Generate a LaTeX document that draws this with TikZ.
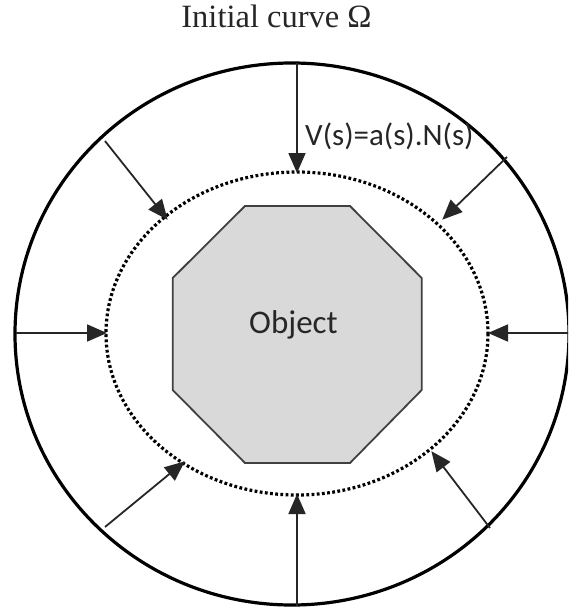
\documentclass[tikz,border=0pt]{standalone}
\usepackage{fontspec}
\setmainfont{Liberation Serif}
\newfontfamily\calfont{Carlito}
\usetikzlibrary{arrows.meta}
\definecolor{objfill}{HTML}{D9D9D9}
\definecolor{objline}{HTML}{404040}
\definecolor{arrcol}{HTML}{262626}
\tikzset{
  x=1pt,y=-1pt,
  outercurve/.style={line width=3.2pt,black},
  innercurve/.style={line width=3.2pt,black,dash pattern=on 2.8pt off 2.4pt},
  objshape/.style={fill=objfill,draw=objline,line width=1.8pt,line join=miter},
  force/.style={line width=1.8pt,arrcol,-{Triangle[length=20pt,width=17pt]},shorten >=-1pt},
  sanslabel/.style={font=\calfont\fontsize{31}{37}\selectfont,text=black!85,inner sep=0pt},
}
\begin{document}
\begin{tikzpicture}
\useasboundingbox (0,0) rectangle (568,610);
\clip (0,0) rectangle (568,610);
% outer initial curve
\draw[outercurve] (292,334) ellipse [x radius=277, y radius=271];
% evolving (dotted) curve
\draw[innercurve] (297,333.5) ellipse [x radius=191, y radius=161.5];
% object
\draw[objshape] (245,206) -- (350,206) -- (421.7,278) -- (421.7,390) -- (350,463) -- (245,463) -- (172.7,390) -- (172.7,278) -- cycle;
\node[sanslabel,anchor=base west,font=\calfont\fontsize{33}{38}\selectfont] (obj) at (249,333) {Object};
% title
\node[inner sep=0pt,font=\fontsize{32.5}{38}\selectfont,anchor=base,text=black!85] (title) at (276.5,28) {Initial curve Ω};
% speed label
\node[sanslabel,anchor=base west] (vel) at (305,145) {V(s)=a(s).N(s)};
% arrow end points
\coordinate (s1) at (297,63);   \coordinate (t1) at (297,172);
\coordinate (s2) at (297,606);  \coordinate (t2) at (297,495);
\coordinate (s3) at (16,333);   \coordinate (t3) at (106,333);
\coordinate (s4) at (570,333);  \coordinate (t4) at (489,333);
\coordinate (s5) at (105,141);  \coordinate (t5) at (167,219);
\coordinate (s6) at (507,157);  \coordinate (t6) at (443,219);
\coordinate (s7) at (105,527);  \coordinate (t7) at (184,462);
\coordinate (s8) at (490,528);  \coordinate (t8) at (432,452);
\foreach \i in {1,...,8} {\draw[force] (s\i) -- (t\i);}
\end{tikzpicture}
\end{document}
